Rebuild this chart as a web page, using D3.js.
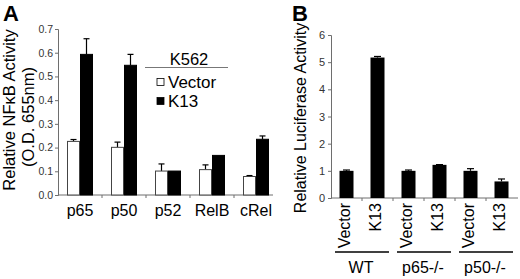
<!DOCTYPE html>
<html><head><meta charset="utf-8">
<script src="https://cdn.jsdelivr.net/npm/d3@7"></script>
<style>
body{margin:0;background:#fff;}
svg{display:block;font-family:"Liberation Sans",Arial,sans-serif;}
</style></head>
<body>
<svg id="c" width="520" height="279"></svg>
<script>
// Panel A data
const catsA = ["p65","p50","p52","RelB","cRel"];
const seriesA = ["Vector","K13"];
const vectorA = [0.226,0.201,0.101,0.107,0.078];
const vectorErrA = [0.008,0.022,0.03,0.02,0.004];
const k13A = [0.593,0.547,0.101,0.167,0.235];
const k13ErrA = [0.066,0.046,0,0,0.014];
const ticksA = [0,0.1,0.2,0.3,0.4,0.5,0.6,0.7];
// Panel B data
const keysB = ["WT-Vector","WT-K13","p65-Vector","p65-K13","p50-Vector","p50-K13"];
const labelsB = ["Vector","K13","Vector","K13","Vector","K13"];
const valuesB = [1.0,5.17,1.0,1.22,1.0,0.61];
const errB = [0.03,0.04,0.03,0.01,0.08,0.09];
const groupsB = ["WT","p65-/-","p50-/-"];
const ticksB = [0,1,2,3,4,5,6];

const svg = d3.select("#c");
const axisCol = "#6e6e6e";
const textCol = "#333";

// ---------- Panel A ----------
const yA = d3.scaleLinear().domain([0,0.7]).range([195,29]);
const xA = d3.scaleBand().domain(catsA).range([58,278]);
const xInA = d3.scaleBand().domain(seriesA).range([9,35]);
const gA = svg.append("g");

const yAxA = gA.append("g").attr("transform","translate(58,0)")
  .call(d3.axisLeft(yA).tickValues(ticksA).tickFormat(d3.format(".1f")).tickSize(3).tickPadding(2));
yAxA.select(".domain").attr("stroke",axisCol);
yAxA.selectAll(".tick line").attr("stroke",axisCol);
yAxA.selectAll("text").attr("fill",textCol).style("font-size","10.5px");

const xAxA = gA.append("g").attr("transform","translate(0,195)")
  .call(d3.axisBottom(xA).tickSize(0).tickPadding(10));
xAxA.select(".domain").attr("d","M58,0H273").attr("stroke",axisCol);
xAxA.selectAll("text").attr("fill","#000").style("font-size","16px").attr("dy","0.71em");
gA.selectAll(".bt").data(catsA.slice(0,-1)).join("line")
  .attr("x1",d=>xA(d)+xA.bandwidth()).attr("x2",d=>xA(d)+xA.bandwidth())
  .attr("y1",195).attr("y2",198).attr("stroke",axisCol);

const rowsA = catsA.map((c,i)=>({c, vals:[
  {s:"Vector",v:vectorA[i],e:vectorErrA[i]},
  {s:"K13",v:k13A[i],e:k13ErrA[i]}]}));
rowsA.forEach(r=>{
  r.vals.forEach(d=>{
    const x = xA(r.c)+xInA(d.s);
    const w = xInA.bandwidth();
    if(d.e>0){
      gA.append("line").attr("x1",x+w/2).attr("x2",x+w/2)
        .attr("y1",yA(d.v)).attr("y2",yA(d.v+d.e)).attr("stroke","#000").attr("stroke-width",1.2);
      gA.append("line").attr("x1",x+w/2-3).attr("x2",x+w/2+3)
        .attr("y1",yA(d.v+d.e)).attr("y2",yA(d.v+d.e)).attr("stroke","#000").attr("stroke-width",1.2);
    }
    gA.append("rect").attr("x",x+0.5).attr("y",yA(d.v)).attr("width",w-1)
      .attr("height",yA(0)-yA(d.v))
      .attr("fill",d.s==="Vector"?"#fff":"#000")
      .attr("stroke",d.s==="Vector"?"#444":"#000").attr("stroke-width",1);
  });
});

// Y label A
gA.append("text").attr("transform","translate(15,110) rotate(-90)")
  .attr("text-anchor","middle").style("font-size","16.5px").attr("fill","#000")
  .text("Relative NFκB Activity");
gA.append("text").attr("transform","translate(33.5,117) rotate(-90)")
  .attr("text-anchor","middle").style("font-size","16.5px").attr("fill","#000")
  .text("(O.D. 655nm)");
// Panel letter
svg.append("text").attr("x",3).attr("y",21).style("font-size","22px").style("font-weight","bold").text("A");

// Legend
const lg = gA.append("g");
lg.append("text").attr("x",189).attr("y",65).attr("text-anchor","middle").style("font-size","16.5px").text("K562");
lg.append("line").attr("x1",145).attr("x2",228).attr("y1",67.5).attr("y2",67.5).attr("stroke","#777").attr("stroke-width",1);
seriesA.forEach((s,i)=>{
  const cy = 82 + i*19;
  lg.append("rect").attr("x",157).attr("y",cy-3.5).attr("width",7).attr("height",7)
    .attr("fill",s==="Vector"?"#fff":"#000").attr("stroke","#000").attr("stroke-width",0.8);
  lg.append("text").attr("x",168).attr("y",cy+6).style("font-size","17px").text(s);
});

// ---------- Panel B ----------
const yB = d3.scaleLinear().domain([0,6]).range([198,35]);
const xB = d3.scaleBand().domain(keysB).range([331,517]);
const gB = svg.append("g");
const yAxB = gB.append("g").attr("transform","translate(331,0)")
  .call(d3.axisLeft(yB).tickValues(ticksB).tickFormat(d3.format("d")).tickSize(3).tickPadding(3));
yAxB.select(".domain").attr("stroke",axisCol);
yAxB.selectAll(".tick line").attr("stroke",axisCol);
yAxB.selectAll("text").attr("fill",textCol).style("font-size","11px");

const xAxB = gB.append("g").attr("transform","translate(0,198)")
  .call(d3.axisBottom(xB).tickSize(0).tickFormat((d,i)=>labelsB[i]));
xAxB.select(".domain").attr("d","M331,0H518").attr("stroke",axisCol);
xAxB.selectAll("text")
  .attr("transform","rotate(-90)").attr("text-anchor","end")
  .attr("x",-5).attr("y",3).attr("dy",0).attr("dx",0)
  .attr("fill","#000").style("font-size","16px");
gB.selectAll(".btb").data(keysB.slice(0,-1)).join("line")
  .attr("x1",d=>xB(d)+xB.bandwidth()).attr("x2",d=>xB(d)+xB.bandwidth())
  .attr("y1",198).attr("y2",201).attr("stroke",axisCol);

const bw = 14;
keysB.forEach((k,i)=>{
  const cx = xB(k)+xB.bandwidth()/2;
  const v = valuesB[i], e = errB[i];
  gB.append("line").attr("x1",cx).attr("x2",cx).attr("y1",yB(v)).attr("y2",yB(v+e)).attr("stroke","#000").attr("stroke-width",1.2);
  gB.append("line").attr("x1",cx-3.5).attr("x2",cx+3.5).attr("y1",yB(v+e)).attr("y2",yB(v+e)).attr("stroke","#000").attr("stroke-width",1.2);
  gB.append("rect").attr("x",cx-bw/2).attr("y",yB(v)).attr("width",bw).attr("height",yB(0)-yB(v)).attr("fill","#000");
});

groupsB.forEach((g,i)=>{
  const x0 = xB(keysB[i*2]), x1 = xB(keysB[i*2+1])+xB.bandwidth();
  gB.append("line").attr("x1",x0+4).attr("x2",x1-4).attr("y1",252).attr("y2",252).attr("stroke","#000").attr("stroke-width",1.5);
  gB.append("text").attr("x",(x0+x1)/2-1).attr("y",273).attr("text-anchor","middle").style("font-size","16px").text(g);
});

gB.append("text").attr("transform","translate(306,118) rotate(-90)")
  .attr("text-anchor","middle").style("font-size","16px").attr("fill","#000")
  .text("Relative Luciferase Activity");
svg.append("text").attr("x",292).attr("y",21).style("font-size","22px").style("font-weight","bold").text("B");
</script>
</body></html>
